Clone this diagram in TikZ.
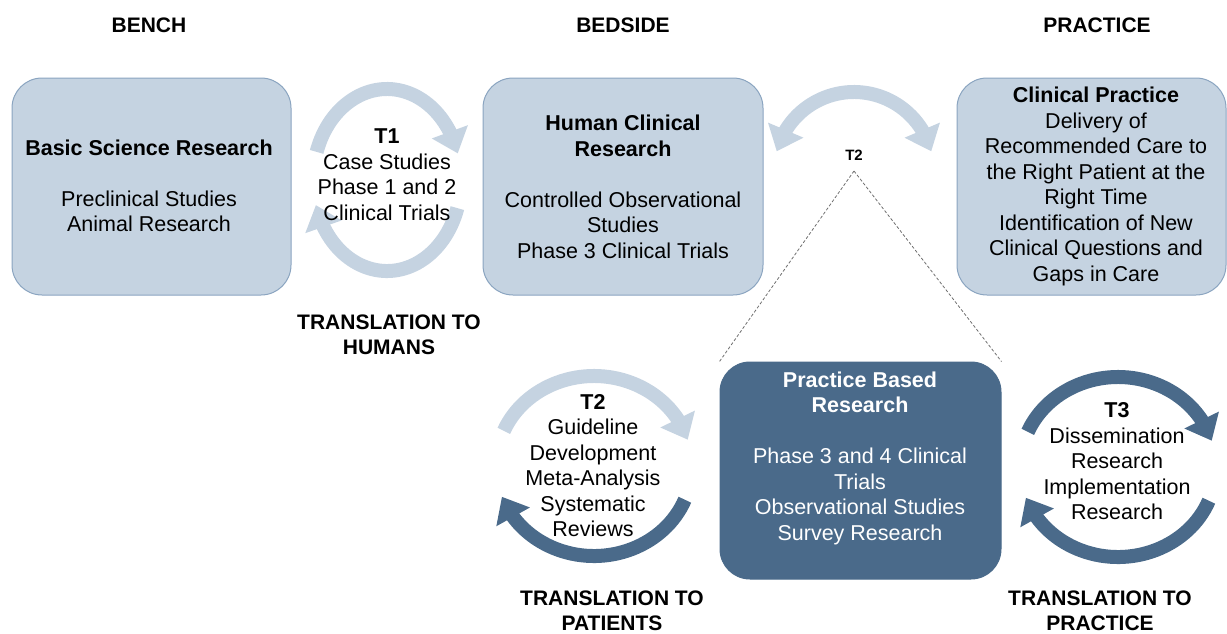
\documentclass[tikz,border=0pt]{standalone}
\usepackage{fontspec}
\setmainfont{Liberation Sans}
\usetikzlibrary{arrows.meta,bending}
\definecolor{paleblue}{RGB}{197,211,225}
\definecolor{paleedge}{RGB}{138,164,192}
\definecolor{steel}{RGB}{74,106,138}
\definecolor{dashgray}{RGB}{110,110,110}
\begin{document}
\begin{tikzpicture}[x=1pt,y=-1pt,
  stagebox/.style={draw=paleedge, line width=1pt, rounded corners=30pt, fill=paleblue,
    minimum height=217pt, inner sep=0pt},
  darkbox/.style={stagebox, fill=steel, draw=steel},
  body/.style={align=center, font=\fontsize{21.5}{25.5}\selectfont, inner sep=0pt},
  heading/.style={align=center, font=\bfseries\fontsize{21}{25}\selectfont, inner sep=0pt},
  band/.style={line width=14pt},
  headtip/.style={-{Triangle[width=37pt,length=23pt]}},
  twotip/.style={{Triangle[width=37pt,length=23pt]}-{Triangle[width=37pt,length=23pt]}},
]
\useasboundingbox (0,0) rectangle (1227,633);
\clip (0,0) rectangle (1227,633);

% column headings
\node[heading] (bench) at (149,25) {BENCH};
\node[heading] (bedside) at (623,25) {BEDSIDE};
\node[heading] (practice) at (1097,25) {PRACTICE};

% stage boxes
\node[stagebox, minimum width=279pt] (bsr) at (151.5,186.5) {};
\node[stagebox, minimum width=280pt] (hcr) at (623,186.5) {};
\node[stagebox, minimum width=269pt] (cp) at (1091.5,186.5) {};
\node[darkbox, minimum width=281pt] (pbr) at (860.5,470.5) {};

\node[body] (bsrtext) at (149,186) {\textbf{Basic Science Research}\\[25.5pt]Preclinical Studies\\Animal Research};
\node[body] (hcrtext) at (623,187) {\textbf{Human Clinical}\\\textbf{Research}\\[25.5pt]Controlled Observational\\Studies\\Phase 3 Clinical Trials};
\node[body] (cptext) at (1096,186.5) {\textbf{Clinical Practice}\\Delivery of\\Recommended Care to\\the Right Patient at the\\Right Time\\Identification of New\\Clinical Questions and\\Gaps in Care};
\node[body, text=white] (pbrtext) at (860,458) {\textbf{Practice Based}\\\textbf{Research}\\[25.5pt]Phase 3 and 4 Clinical\\Trials\\Observational Studies\\Survey Research};

% T1 cycle
\coordinate (t1c) at (387,180);
\draw[band, paleblue, headtip] (t1c) ++(198:74 and 91) arc[start angle=198, end angle=343, x radius=74, y radius=91];
\draw[band, paleblue, headtip] (t1c) ++(18:74 and 91) arc[start angle=18, end angle=164, x radius=74, y radius=91];
\node[body] (t1text) at (387,174.5) {\textbf{T1}\\Case Studies\\Phase 1 and 2\\Clinical Trials};
\node[heading] (t1label) at (389,334.5) {TRANSLATION TO\\HUMANS};

% T2 double arrow between bedside and practice
\coordinate (t2c) at (854,172);
\draw[band, paleblue, twotip] (t2c) ++(195:80) arc[start angle=195, end angle=345, radius=80];
\node[font=\bfseries\fontsize{15}{18}\selectfont, inner sep=0pt] (t2top) at (854,155) {T2};
\coordinate (apex) at (854,171);
\draw[dashgray, line width=0.8pt, dash pattern=on 3pt off 2pt] (apex) -- (pbr.north west);
\draw[dashgray, line width=0.8pt, dash pattern=on 3pt off 2pt] (apex) -- (pbr.north east);

% T2 cycle
\coordinate (t2cyc) at (594,466);
\draw[band, paleblue, headtip] (t2cyc) ++(203:98 and 90) arc[start angle=203, end angle=343, x radius=98, y radius=90];
\draw[band, steel, headtip] (t2cyc) ++(22:98 and 90) arc[start angle=22, end angle=160, x radius=98, y radius=90];
\node[body] (t2text) at (593,465.5) {\textbf{T2}\\Guideline\\Development\\Meta-Analysis\\Systematic\\Reviews};
\node[heading] (t2label) at (612,611) {TRANSLATION TO\\PATIENTS};

% T3 cycle
\coordinate (t3c) at (1118,467);
\draw[band, steel, headtip] (t3c) ++(203:98 and 90) arc[start angle=203, end angle=343, x radius=98, y radius=90];
\draw[band, steel, headtip] (t3c) ++(22:98 and 90) arc[start angle=22, end angle=160, x radius=98, y radius=90];
\node[body] (t3text) at (1117,461.5) {\textbf{T3}\\Dissemination\\Research\\Implementation\\Research};
\node[heading] (t3label) at (1100,611) {TRANSLATION TO\\PRACTICE};
\end{tikzpicture}
\end{document}
